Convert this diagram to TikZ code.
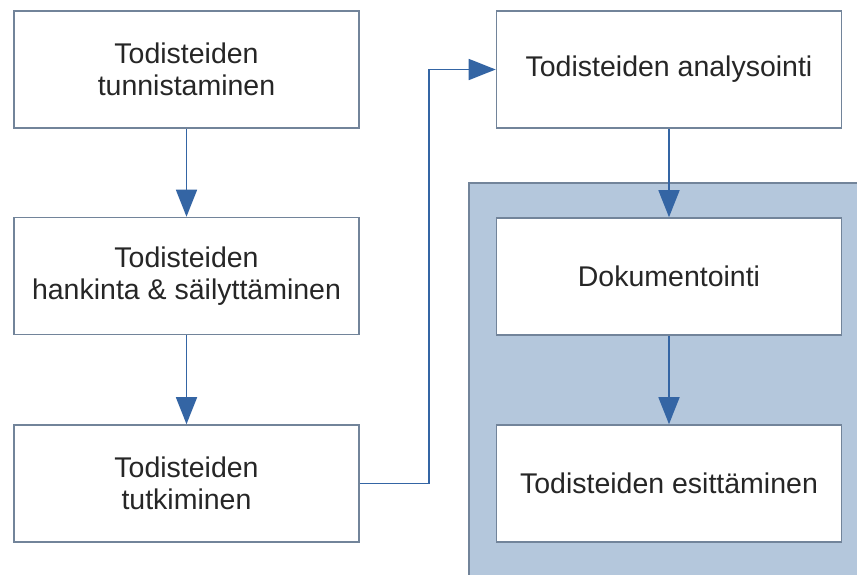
\documentclass[tikz,border=0pt]{standalone}
\usepackage{fontspec}
\setmainfont{Liberation Sans}
\usetikzlibrary{arrows.meta}
\definecolor{boxline}{HTML}{72849A}
\definecolor{conn}{HTML}{3465A4}
\definecolor{grpfill}{HTML}{B4C7DC}
\begin{document}
\begin{tikzpicture}[x=1pt,y=-1pt,
  stepbox/.style={draw=boxline, line width=1.6pt, fill=white, minimum width=345pt, minimum height=117pt,
    align=center, inner sep=0pt, text=black!85, font=\fontsize{28.5}{32.5}\selectfont},
  conline/.style={draw=conn, line width=1.6pt, -{Triangle[length=27pt,width=21pt]}}]
\useasboundingbox (0,0) rectangle (857,574);
\fill[white] (0,0) rectangle (857,574);
% group area
\fill[grpfill] (469,183) rectangle (880,600);
\draw[draw=boxline, line width=1.6pt] (469,600) -- (469,183) -- (880,183);
\node[stepbox] (b1) at (186.5,69.5) {Todisteiden\\tunnistaminen};
\node[stepbox] (b2) at (186.5,276) {Todisteiden\\hankinta \& säilyttäminen};
\node[stepbox] (b3) at (186.5,483.5) {Todisteiden\\tutkiminen};
\node[stepbox] (b4) at (669,69.5) {Todisteiden analysointi};
\node[stepbox] (b5) at (669,276.5) {Dokumentointi};
\node[stepbox] (b6) at (669,483.5) {Todisteiden esittäminen};
\draw[conline] (b1) -- (b2);
\draw[conline] (b2) -- (b3);
\draw[conline] (b3.east) -- ++(69,0) |- (b4.west);
\draw[conline] (b4) -- (b5);
\draw[conline] (b5) -- (b6);
\end{tikzpicture}
\end{document}
